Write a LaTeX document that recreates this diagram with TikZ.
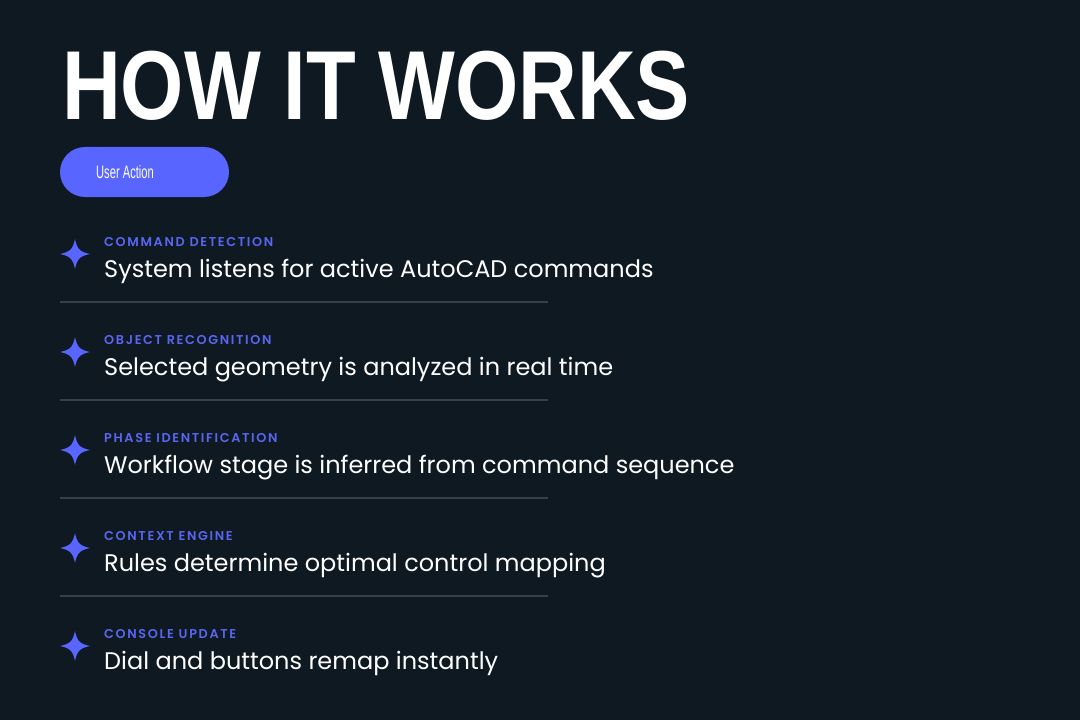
\documentclass[tikz,border=0pt]{standalone}
\usepackage{fontspec}
\setmainfont{Poppins}
\newfontfamily\titlefont{Liberation Sans}
\newfontfamily\pillfont{Liberation Sans}
\newfontfamily\labelfont[LetterSpace=13]{Poppins SemiBold}
\definecolor{bgc}{HTML}{0F1922}
\definecolor{accent}{HTML}{5865FF}
\definecolor{labelc}{HTML}{5A65F2}
\definecolor{rulec}{HTML}{36404A}
\tikzset{
  bodytxt/.style={anchor=base west, inner sep=0pt, text=white, font=\fontsize{24bp}{30bp}\selectfont},
  labtxt/.style={anchor=base west, inner sep=0pt, text=labelc, font=\labelfont\fontsize{12.8bp}{15bp}\selectfont},
  divider/.style={draw=rulec, line width=2bp},
  sparkle/.style={fill=accent, draw=none},
}
\newcommand{\sparkleat}[2]{%
  \fill[sparkle] (#1,#2-15) .. controls (#1+2,#2-5) and (#1+5,#2-2) .. (#1+15,#2)
    .. controls (#1+5,#2+2) and (#1+2,#2+5) .. (#1,#2+15)
    .. controls (#1-2,#2+5) and (#1-5,#2+2) .. (#1-15,#2)
    .. controls (#1-5,#2-2) and (#1-2,#2-5) .. cycle;}
\begin{document}
\begin{tikzpicture}[x=1bp,y=-1bp]
\fill[bgc] (0,0) rectangle (1080,720);
\useasboundingbox (0,0) rectangle (1080,720);
\node[anchor=base west, inner sep=0pt, text=white] (title) at (62,120)
  {\scalebox{0.83}[1]{\titlefont\bfseries\fontsize{98bp}{100bp}\selectfont HOW IT WORKS}};
\node[fill=accent, rounded corners=25bp, minimum width=169bp, minimum height=50bp, inner sep=0pt] (pill) at (144.5,172) {};
\node[inner sep=0pt, text=white] (pilltxt) at (125,172)
  {\scalebox{0.62}[1]{\pillfont\fontsize{18bp}{20bp}\selectfont User Action}};
\foreach \i/\lab/\txt in {0/COMMAND DETECTION/System listens for active AutoCAD commands,
  1/OBJECT RECOGNITION/Selected geometry is analyzed in real time,
  2/PHASE IDENTIFICATION/Workflow stage is inferred from command sequence,
  3/CONTEXT ENGINE/Rules determine optimal control mapping,
  4/CONSOLE UPDATE/Dial and buttons remap instantly}{
  \pgfmathsetmacro{\yy}{98*\i}
  \sparkleat{75}{254+\yy}
  \node[labtxt] (lab\i) at (104,246+\yy) {\lab};
  \node[bodytxt] (txt\i) at (104,277+\yy) {\txt};
}
\foreach \i in {0,1,2,3}{
  \pgfmathsetmacro{\yy}{302+98*\i}
  \coordinate (dl\i) at (60,\yy);
  \coordinate (dr\i) at (548,\yy);
  \draw[divider] (dl\i) -- (dr\i);
}
\end{tikzpicture}
\end{document}
